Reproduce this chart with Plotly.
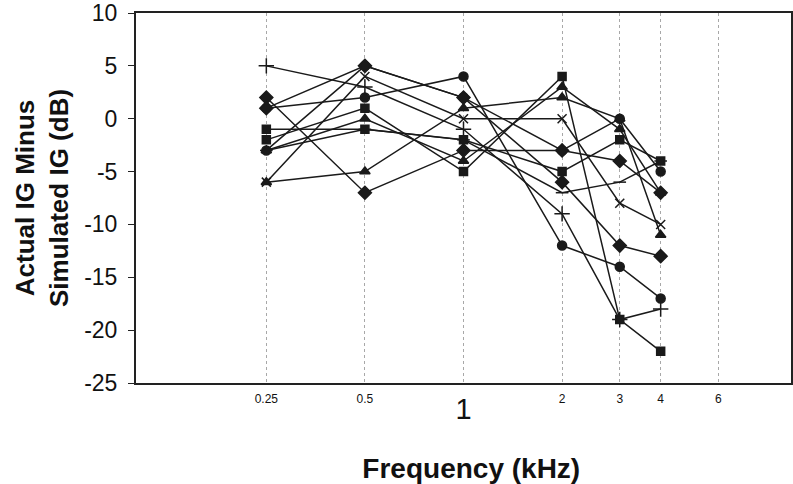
import plotly.graph_objects as go

freqs = [0.25, 0.5, 1, 2, 3, 4]

s_plus = [5, 3, -1, -9, -19, -18]
s_diamond_a = [2, -7, -3, -3, -4, -7]
s_circle_b = [1, 2, 4, -12, -14, -17]
s_x = [-6, 4, 0, 0, -8, -10]
s_square_a = [-2, 1, -5, 4, -19, -22]
s_square_b = [-1, -1, -2, -5, -2, -4]
s_triangle_a = [-3, 0, -4, 3, -1, -7]
s_triangle_b = [-6, -5, 1, 2, 0, -11]
s_dash = [-3, -1, -2, -7, -6, -4]
s_diamond_b = [1, 5, 2, -6, -12, -13]
s_circle_a = [-3, 5, 2, -3, 0, -5]

x_tick_vals = [0.25, 0.5, 1, 2, 3, 4, 6]
x_tick_text = ["0.25", "0.5", '<br><span style="font-size:29px">1</span>', "2", "3", "4", "6"]
y_tick_vals = [10, 5, 0, -5, -10, -15, -20, -25]
y_tick_text = ["10", "5", "0", "-5", "-10", "-15", "-20", "-25"]

series = [
    (s_dash, "line-ew-open", 9),
    (s_triangle_a, "triangle-up", 9),
    (s_x, "x-thin-open", 9),
    (s_triangle_b, "triangle-up", 9),
    (s_circle_b, "circle", 9),
    (s_diamond_b, "diamond", 10),
    (s_plus, "cross-thin-open", 11),
    (s_square_b, "square", 8),
    (s_square_a, "square", 8),
    (s_diamond_a, "diamond", 10),
    (s_circle_a, "circle", 9),
]

fig = go.Figure()
for vals, sym, size in series:
    fig.add_trace(go.Scatter(
        x=freqs, y=vals, mode="lines+markers",
        line=dict(color="#1a1a1a", width=1.5),
        marker=dict(symbol=sym, size=size, color="#1a1a1a",
                    line=dict(color="#1a1a1a", width=1.5)),
        showlegend=False,
    ))

fig.update_layout(
    width=793, height=484,
    margin=dict(l=136, r=2, t=13, b=101),
    paper_bgcolor="white", plot_bgcolor="white",
    font=dict(family="Arial, Liberation Sans, sans-serif", color="#111"),
    xaxis=dict(
        type="log", range=[-1, 1], automargin=False,
        tickvals=x_tick_vals, ticktext=x_tick_text,
        tickfont=dict(size=12), ticklabelstandoff=4,
        showgrid=True, gridcolor="#a8a8a8", griddash="dot", gridwidth=1,
        showline=True, linecolor="#222", linewidth=2, mirror=True,
        ticks="", zeroline=False,
        title=dict(text="<b>\u00a0\u00a0Frequency (kHz)</b>", font=dict(size=28), standoff=50),
    ),
    yaxis=dict(
        range=[-25, 10], tickvals=y_tick_vals, ticktext=y_tick_text,
        automargin=False,
        tickfont=dict(size=23), ticklabelstandoff=6,
        showgrid=False, zeroline=False,
        showline=True, linecolor="#222", linewidth=2, mirror=True,
        ticks="outside", ticklen=6, tickcolor="#222",
        title=dict(text="<b>Actual IG Minus<br>Simulated IG (dB)</b>", font=dict(size=26), standoff=8),
    ),
)

post = (
    "document.body.style.margin='0';"
    "var gd=document.getElementById('{plot_id}');"
    "Plotly.newPlot(gd, gd.data, gd.layout, {displayModeBar:false});"
)
fig.write_html("out.html", config={"displayModeBar": False}, post_script=post)
